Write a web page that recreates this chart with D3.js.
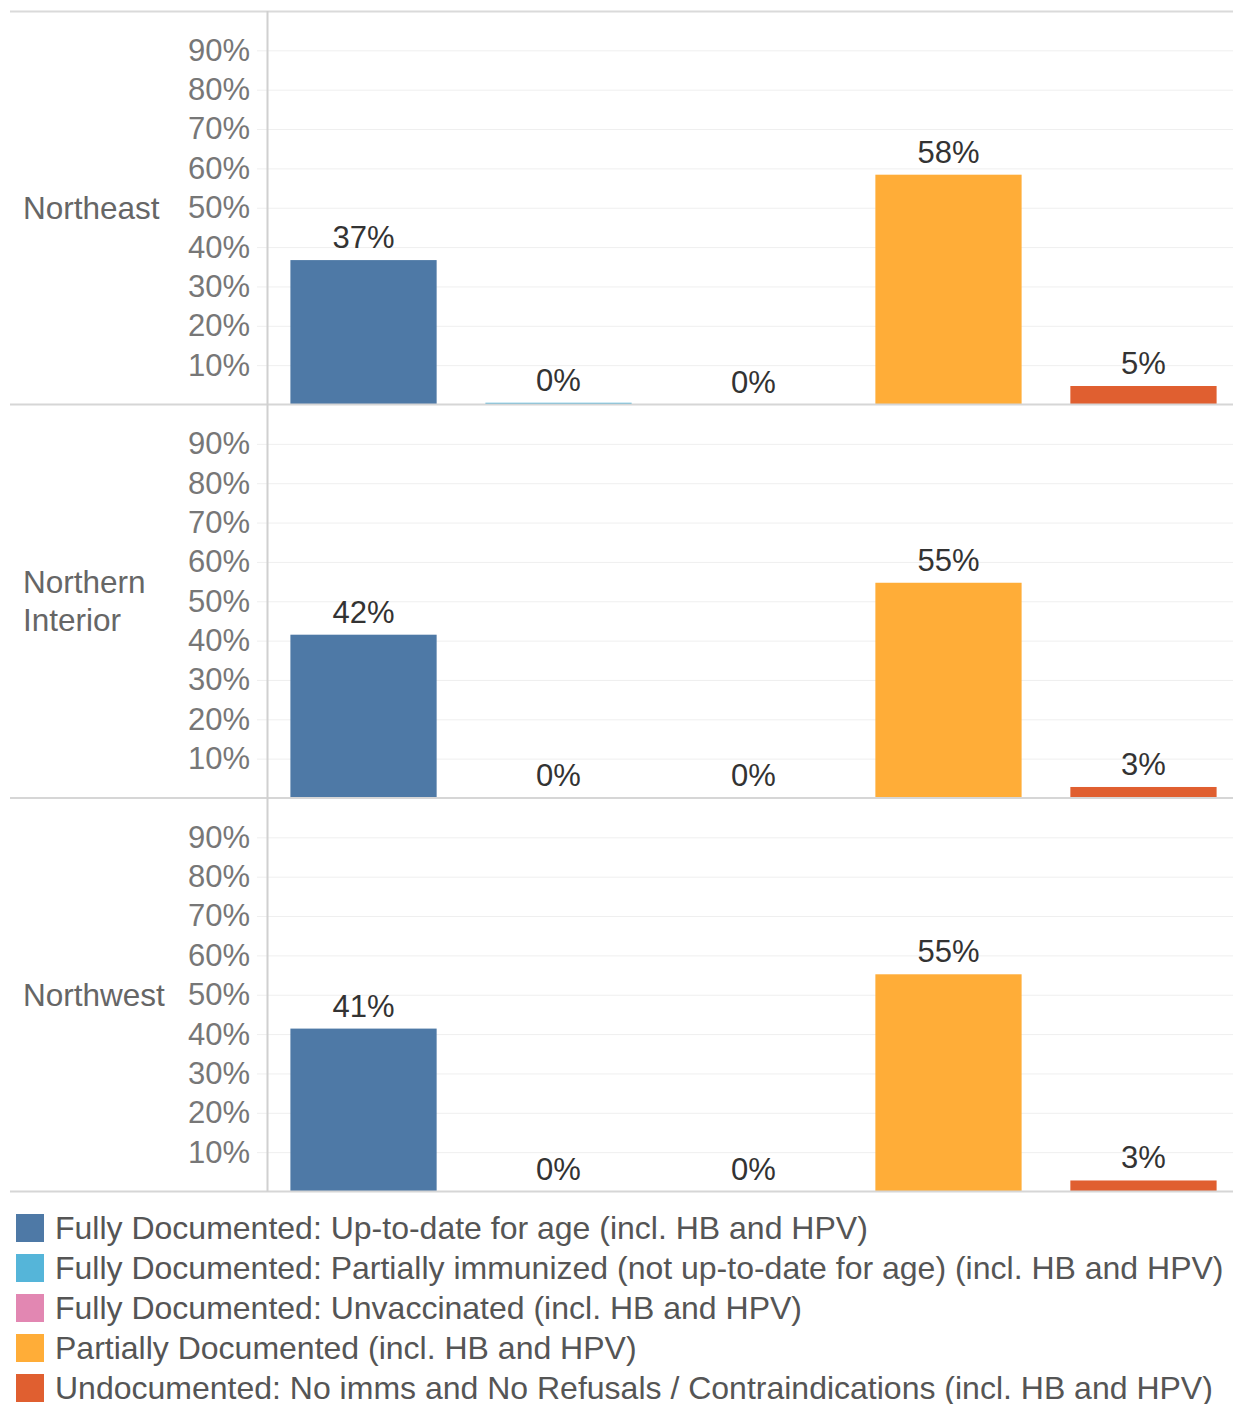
<!DOCTYPE html>
<html>
<head>
<meta charset="utf-8">
<script src="https://cdnjs.cloudflare.com/ajax/libs/d3/7.8.5/d3.min.js"></script>
<style>
  body { margin: 0; background: #fff; }
  svg { display: block; font-family: "Liberation Sans", Arial, sans-serif; }
  .tick text { fill: #777; font-size: 31px; }
  .grid line { stroke: #efefef; stroke-width: 1; }
  .region { fill: #666; font-size: 31.5px; }
  .value { fill: #333; font-size: 31px; }
  .legend text { fill: #555; font-size: 32px; }
</style>
</head>
<body>
<svg id="chart"></svg>
<script>
// DATA
var regions = ["Northeast", "Northern Interior", "Northwest"];
var categories = [
  "Fully Documented: Up-to-date for age (incl. HB and HPV)",
  "Fully Documented: Partially immunized (not up-to-date for age) (incl. HB and HPV)",
  "Fully Documented: Unvaccinated (incl. HB and HPV)",
  "Partially Documented (incl. HB and HPV)",
  "Undocumented: No imms and No Refusals / Contraindications (incl. HB and HPV)"
];
// percent values per region (same order as regions)
var upToDate = [36.7, 41.5, 41.4];
var partiallyImmunized = [0.45, 0, 0];
var unvaccinated = [0, 0, 0];
var partiallyDocumented = [58.4, 54.7, 55.2];
var undocumented = [4.7, 2.8, 2.8];
var yTicks = [0.1, 0.2, 0.3, 0.4, 0.5, 0.6, 0.7, 0.8, 0.9];
var colors = ["#4e79a6", "#55b5d9", "#e287b2", "#ffad38", "#e05f30"];

var series = [upToDate, partiallyImmunized, unvaccinated, partiallyDocumented, undocumented];

// SIZING
var width = 1233, height = 1404;
var top0 = 11, panelH = 393.5;
var axisX = 267;

var svg = d3.select("#chart")
  .attr("width", width)
  .attr("height", height);

var x = d3.scaleBand()
  .domain(categories)
  .range([axisX, 1240])
  .paddingInner(0.25)
  .paddingOuter(0.12);

var y = d3.scaleLinear()
  .domain([0, 1])
  .range([panelH, 0]);

var color = d3.scaleOrdinal().domain(categories).range(colors);
var pct = function(v) { return Math.round(v) + "%"; };

// top border
svg.append("line")
  .attr("x1", 10).attr("x2", width)
  .attr("y1", top0 + 0.5).attr("y2", top0 + 0.5)
  .style("stroke", "#dadada").style("stroke-width", 2);

regions.forEach(function(region, i) {
  var g = svg.append("g")
    .attr("transform", "translate(0," + (top0 + i * panelH) + ")");

  // gridlines + tick labels
  g.append("g")
    .attr("class", "grid")
    .attr("transform", "translate(" + 257 + ",0)")
    .call(d3.axisLeft(y)
      .tickValues(yTicks)
      .tickFormat(d3.format(".0%"))
      .tickSize(-(width - 257))
      .tickPadding(7))
    .call(function(a) { a.select(".domain").remove(); })
    .selectAll("text").attr("font-size", null).attr("font-family", null);

  // region label
  var words = region === "Northern Interior" ? ["Northern", "Interior"] : [region];
  var lab = g.append("text")
    .attr("class", "region")
    .attr("x", 23)
    .attr("y", y(0.5));
  words.forEach(function(w, k) {
    lab.append("tspan")
      .attr("x", 23)
      .attr("dy", k === 0 ? ((-(words.length - 1) * 38) / 2 + 11) + "px" : "38px")
      .text(w);
  });

  var rows = categories.map(function(c, k) { return {cat: c, value: series[k][i]}; });

  // bars
  g.selectAll(".bar")
    .data(rows)
    .enter().append("rect")
    .attr("class", "bar")
    .attr("x", function(d) { return x(d.cat); })
    .attr("width", x.bandwidth())
    .attr("y", function(d) { return y(d.value / 100); })
    .attr("height", function(d) { return panelH - y(d.value / 100); })
    .style("fill", function(d) { return color(d.cat); });

  // value labels
  g.selectAll(".value")
    .data(rows)
    .enter().append("text")
    .attr("class", "value")
    .attr("x", function(d) { return x(d.cat) + x.bandwidth() / 2; })
    .attr("y", function(d) { return y(d.value / 100) - 12; })
    .attr("text-anchor", "middle")
    .text(function(d) { return pct(d.value); });

  // panel bottom separator
  g.append("line")
    .attr("x1", 10).attr("x2", width)
    .attr("y1", panelH).attr("y2", panelH)
    .style("stroke", "#d6d6d6").style("stroke-width", 2);
});

// vertical divider
svg.append("line")
  .attr("x1", axisX + 0.5).attr("x2", axisX + 0.5)
  .attr("y1", top0).attr("y2", top0 + 3 * panelH)
  .style("stroke", "#d0d0d0").style("stroke-width", 2);

// LEGEND
var legend = svg.append("g")
  .attr("class", "legend")
  .attr("transform", "translate(16," + 1214 + ")");

var item = legend.selectAll("g")
  .data(categories)
  .enter().append("g")
  .attr("transform", function(d, k) { return "translate(0," + (k * 40) + ")"; });

item.append("rect")
  .attr("width", 28).attr("height", 28)
  .style("fill", function(d) { return color(d); });

item.append("text")
  .attr("x", 39)
  .attr("y", 25)
  .text(function(d) { return d; });
</script>
</body>
</html>
